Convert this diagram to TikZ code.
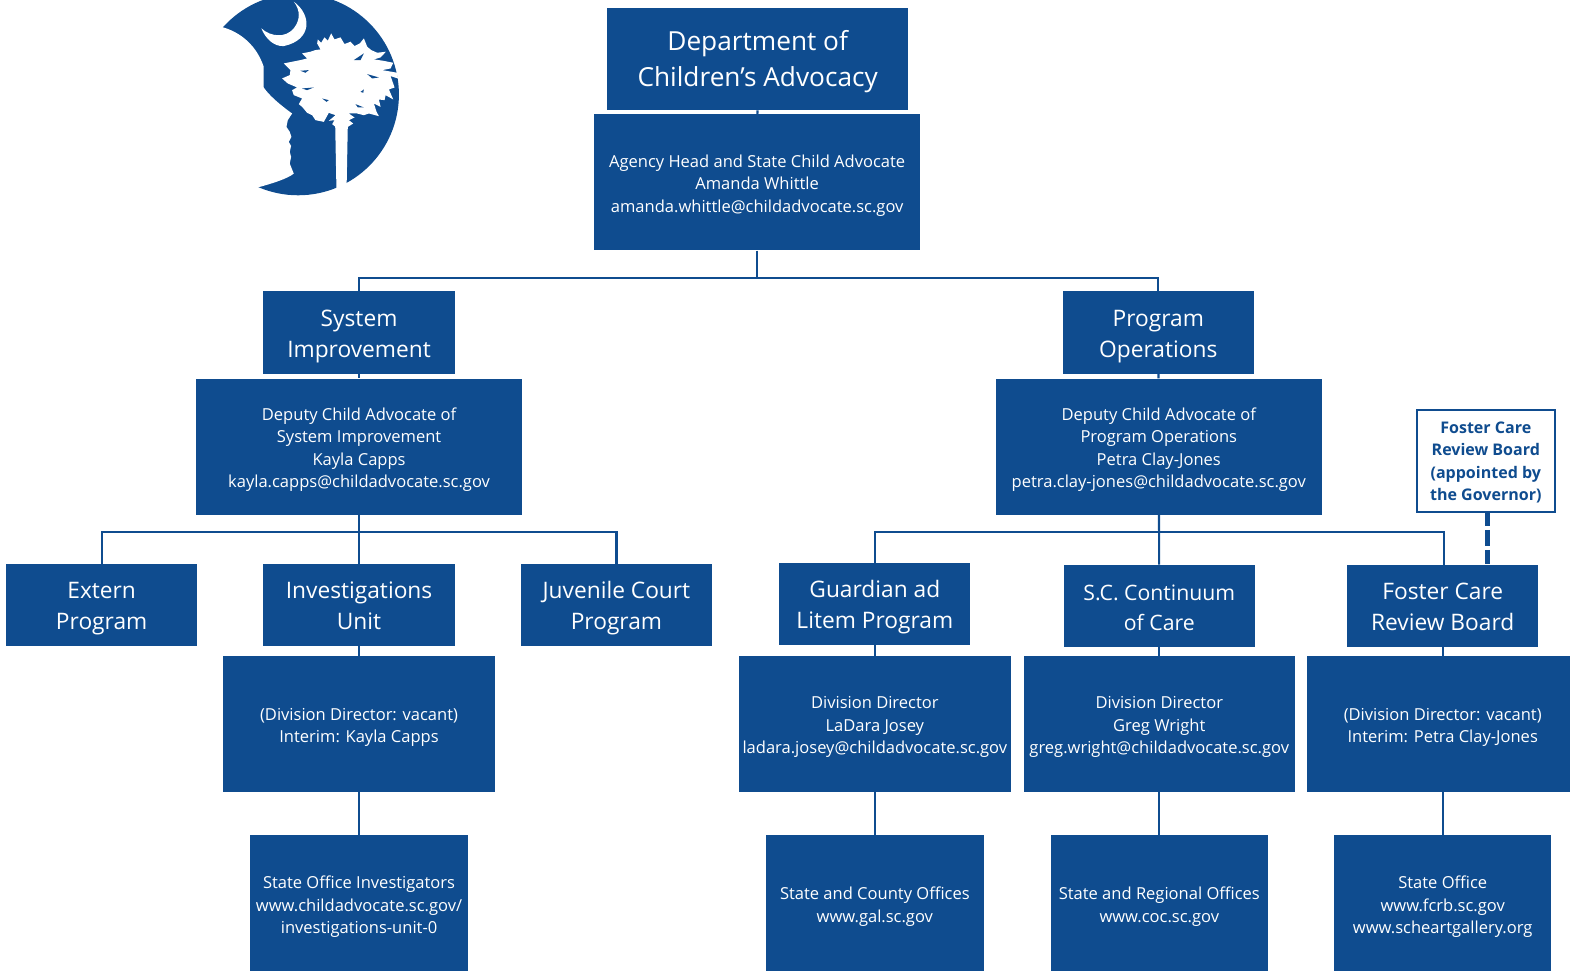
\documentclass[tikz,border=0pt]{standalone}
\usepackage{fontspec}
\setmainfont{Open Sans}
\definecolor{dcablue}{HTML}{0F4C8F}
\newcommand\ub{\rule{0pt}{18.5pt}}
\newcommand\ut{\rule{0pt}{23.5pt}}
\newcommand\ug{\rule{0pt}{25.5pt}}
\newcommand\dn{\rule[-5pt]{0pt}{5pt}}
\tikzset{
  x=1pt,y=-1pt,
  box/.style 2 args={fill=dcablue,text=white,inner sep=0pt,align=center,minimum width=#1pt,minimum height=#2pt},
  title/.style={font=\fontsize{22.7}{31}\selectfont},
  smalltitle/.style={font=\fontsize{21.2}{30}\selectfont},
  bigtitle/.style={font=\fontsize{26.2}{36}\selectfont},
  body/.style={font=\fontsize{16.5}{22.5}\selectfont},
  link/.style={draw=dcablue,line width=2.1pt},
}
\begin{document}
\begin{tikzpicture}
\useasboundingbox (0,0) rectangle (1567.6,969.5);
% logo
\begin{scope}[shift={(200,0)},x=0.3333pt,y=-0.3333pt]
  \fill[dcablue] (293,283) circle[radius=302];
  \fill[white] (52,78) .. controls (105,88) and (165,125) .. (190,200) -- (190,262) .. controls (205,285) and (240,315) .. (275,340)
    -- (262,360) -- (258,380) -- (268,395) -- (273,410) -- (265,425) -- (272,437) -- (268,455) -- (272,470) -- (268,490) -- (280,520)
    .. controls (262,535) and (215,550) .. (170,562) -- (-20,620) -- (-20,40) -- cycle;
  \fill[white] (280,5) .. controls (335,45) and (335,120) .. (250,138) .. controls (220,140) and (195,115) .. (183,85)
    .. controls (210,110) and (255,115) .. (280,85) .. controls (300,60) and (300,30) .. (280,5) -- cycle;
  \fill[white] (404,370) -- (408,575) -- (438,575) -- (442,370) -- cycle;
  \fill[white] (352,118) -- (362,128) -- (372,112) -- (382,122) -- (392,100) -- (402,118) -- (420,112) -- (432,132) -- (450,125)
    -- (462,138) -- (478,130) -- (490,115) -- (500,140) -- (512,150) -- (530,158) -- (556,155) -- (540,172) -- (520,178)
    -- (548,182) -- (578,188) -- (570,205) -- (545,210) -- (590,218) -- (592,235) -- (570,228) -- (582,262) -- (565,268)
    -- (578,298) -- (555,285) -- (552,300) -- (535,298) -- (540,320) -- (520,310) -- (528,335) -- (535,348) -- (505,340)
    -- (490,345) -- (470,340) -- (445,340) -- (462,352) -- (445,360) -- (458,370) -- (442,380) -- (405,380) -- (395,372)
    -- (402,360) -- (385,362) -- (405,345) -- (385,338) -- (370,365) -- (345,360) -- (335,345) -- (320,338) -- (305,320)
    -- (295,312) -- (305,295) -- (280,285) -- (275,270) -- (290,262) -- (262,250) -- (245,235) -- (268,225) -- (270,210)
    -- (250,190) -- (275,185) -- (300,180) -- (320,175) -- (305,160) -- (330,155) -- (345,150) -- (360,148) -- (350,130) -- cycle;
  \fill[dcablue] (300,212) -- (325,210) -- (315,218) -- cycle;
  \fill[dcablue] (305,265) -- (340,262) -- (320,270) -- cycle;
  \fill[dcablue] (365,295) -- (385,300) -- (378,305) -- cycle;
  \fill[dcablue] (460,180) -- (490,160) -- (480,180) -- cycle;
  \fill[dcablue] (500,222) -- (535,232) -- (515,235) -- cycle;
  \fill[dcablue] (465,312) -- (490,322) -- (472,322) -- cycle;
  \fill[dcablue] (480,275) -- (490,268) -- (488,278) -- cycle;
\end{scope}
% boxes
\node[box={301}{102},bigtitle] (dept) at (756.5,59) {\ug Department of\\Children’s Advocacy};
\node[box={326}{136},body] (head) at (756,182) {\ub Agency Head and State Child Advocate\\Amanda Whittle\\amanda.whittle@childadvocate.sc.gov};
\node[box={191}{82},title] (sys) at (358.5,332) {\ut System\\Improvement};
\node[box={191}{82},title] (prog) at (1156.5,332) {\ut Program\\Operations};
\node[box={326}{136},body] (dsys) at (358.5,446) {\ub Deputy Child Advocate of\\System Improvement\\Kayla Capps\\kayla.capps@childadvocate.sc.gov};
\node[box={326}{136},body] (dprog) at (1157,446) {\ub Deputy Child Advocate of\\Program Operations\\Petra Clay-Jones\\petra.clay-jones@childadvocate.sc.gov};
\node[box={191}{82},title] (extern) at (101.5,604) {\ut Extern\\Program};
\node[box={191}{82},title] (inv) at (358.5,604) {\ut Investigations\\Unit\dn};
\node[box={191}{82},title] (juv) at (615.5,604) {\ut Juvenile Court\\Program};
\node[box={191}{82},title] (gal) at (873.5,603) {\ut Guardian ad\\Litem Program};
\node[box={191}{82},smalltitle] (coc) at (1157.5,605) {\ut S.C. Continuum\\of Care\dn};
\node[box={191}{82},title] (fcrb) at (1440.5,605) {\ut Foster Care\\Review Board\dn};
\node[box={271}{136},body] (invd) at (358.5,723) {\ub (Division Director: vacant)\\Interim: Kayla Capps};
\node[box={271}{136},body] (gald) at (873.5,723) {\ub Division Director\\LaDara Josey\\ladara.josey@childadvocate.sc.gov};
\node[box={271}{136},body] (cocd) at (1157.5,723) {\ub Division Director\\Greg Wright\\greg.wright@childadvocate.sc.gov};
\node[box={271}{136},body] (fcrbd) at (1440.5,723) {\ub (Division Director: vacant)\\Interim: Petra Clay-Jones};
\node[box={217}{137},body] (invs) at (358.5,902.5) {\ub State Office Investigators\\www.childadvocate.sc.gov/\\investigations-unit-0};
\node[box={217}{137},body] (gals) at (873.5,902.5) {\ub State and County Offices\\www.gal.sc.gov};
\node[box={217}{137},body] (cocs) at (1157.5,902.5) {\ub State and Regional Offices\\www.coc.sc.gov};
\node[box={217}{137},body] (fcrbs) at (1440.5,902.5) {\ub State Office\\www.fcrb.sc.gov\\www.scheartgallery.org};
\node[draw=dcablue,line width=2.1pt,fill=white,text=dcablue,inner sep=0pt,align=center,minimum width=138pt,minimum height=102pt,font=\fontsize{16}{22.5}\selectfont\bfseries] (gov) at (1483.5,460) {\rule{0pt}{15pt}Foster Care\\Review Board\\(appointed by\\the Governor)};
% connectors
\coordinate (bustop) at (756,278);
\coordinate (busleft) at (358.5,531);
\coordinate (busright) at (1157.5,531);
\draw[link] (dept) -- (head);
\draw[link] (head) -- (bustop);
\draw[link] (sys.north) |- (bustop) -| (prog.north);
\draw[link] (sys) -- (dsys);
\draw[link] (prog) -- (dprog);
\draw[link] (dsys) -- (inv);
\draw[link] (extern.north) |- (busleft) -| (juv.north);
\draw[link] (dprog) -- (coc);
\draw[link] (gal.north) |- (busright) -| ([xshift=1.5pt]fcrb.north);
\draw[link] (inv) -- (invd);
\draw[link] (gal) -- (gald);
\draw[link] (coc) -- (cocd);
\draw[link] (fcrb) -- (fcrbd);
\draw[link] (invd) -- (invs);
\draw[link] (gald) -- (gals);
\draw[link] (cocd) -- (cocs);
\draw[link] (fcrbd) -- (fcrbs);
\draw[draw=dcablue,line width=4.6pt,dash pattern=on 13pt off 4pt on 16pt off 4pt on 14pt off 4pt] ([xshift=1.5pt]gov.south) -- ([xshift=44.5pt]fcrb.north);
\end{tikzpicture}
\end{document}
